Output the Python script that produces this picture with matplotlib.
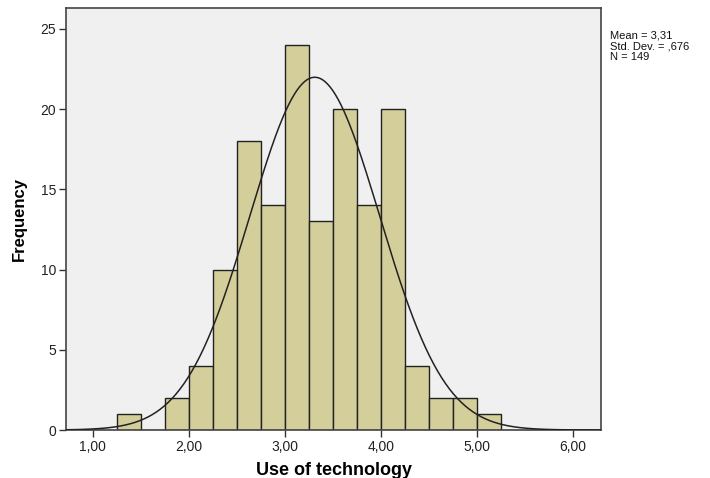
import numpy as np
import matplotlib.pyplot as plt

plt.rcParams['font.family'] = ['Liberation Sans', 'DejaVu Sans']

# Histogram data (bin width 0.25)
bin_edges = np.arange(1.25, 5.26, 0.25)
counts = [1, 0, 2, 4, 10, 18, 14, 24, 13, 20, 14, 20, 4, 2, 2, 1]
mean = 3.31
std = 0.676
n = 149
x_ticks = [1, 2, 3, 4, 5, 6]
x_tick_labels = ['1,00', '2,00', '3,00', '4,00', '5,00', '6,00']
y_ticks = [0, 5, 10, 15, 20, 25]

fig = plt.figure(figsize=(7.1, 4.78), dpi=100)
ax = fig.add_axes([66 / 710, 48 / 478, 535 / 710, 422 / 478])
ax.set_facecolor('#f0f0f0')

widths = np.diff(bin_edges)
ax.bar(bin_edges[:-1], counts, width=widths, align='edge',
       color='#d3ce9a', edgecolor='#222222', linewidth=1.0, zorder=2)

# Normal curve scaled to counts
xs = np.linspace(0.72, 6.29, 400)
ys = n * 0.25 * np.exp(-0.5 * ((xs - mean) / std) ** 2) / (std * np.sqrt(2 * np.pi))
ax.plot(xs, ys, color='#222222', linewidth=1.1, zorder=3)

ax.set_xlim(0.72, 6.29)
ax.set_ylim(0, 26.3)
ax.set_xticks(x_ticks)
ax.set_xticklabels(x_tick_labels)
ax.set_yticks(y_ticks)
ax.tick_params(axis='both', direction='out', length=5, width=1, colors='#333333',
               labelsize=10, labelcolor='#222222', pad=2)
for s in ax.spines.values():
    s.set_color('#444444')
    s.set_linewidth(1.2)

ax.set_xlabel('Use of technology', fontsize=13, fontweight='bold', labelpad=6)
ax.set_ylabel('Frequency', fontsize=12, fontweight='bold', labelpad=10)

fig.text(610 / 710, 1 - 31 / 478, 'Mean = 3,31\nStd. Dev. = ,676\nN = 149',
         fontsize=8, va='top', ha='left', linespacing=1.05, color='#111111')

fig.savefig('out.png', dpi=100)
